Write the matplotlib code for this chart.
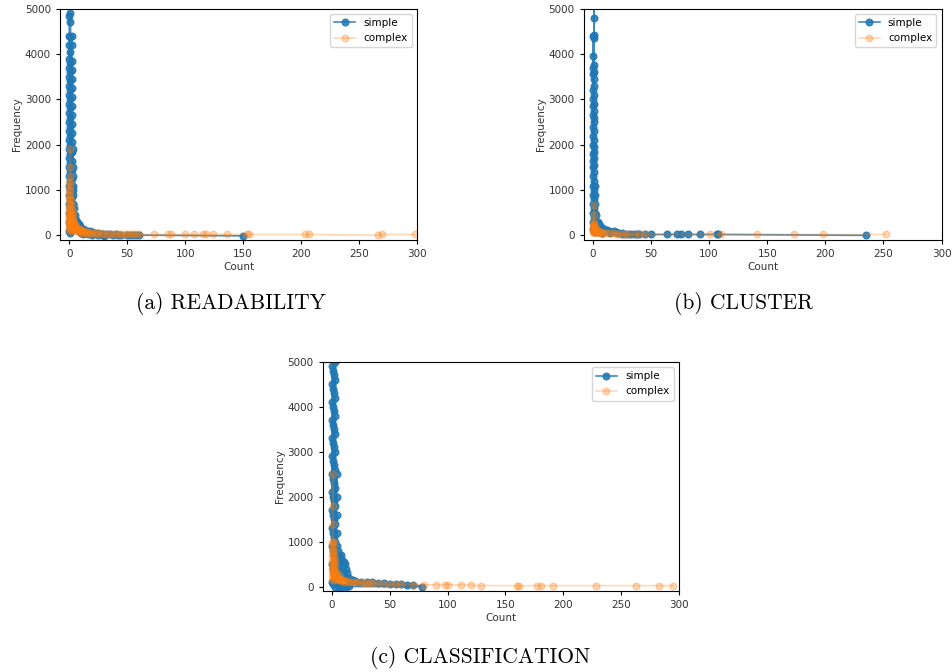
import matplotlib
matplotlib.use("Agg")
import matplotlib.pyplot as plt

# ---------------- data ----------------
# the dense vertical band near Count = 0 is stored per count value (x0, x1, ...)
# and the rest of each series as (count, frequency) lists

# (a) READABILITY
a_simple_x0 = [4850, 4400, 4200, 3900, 3700, 3500, 3300, 3100, 2900, 2700, 2500, 2300,
               2100, 1900, 1700, 1500, 1300, 1100, 900, 700, 500, 300, 100]
a_simple_x1 = [4900, 4700, 4380, 4050, 3800, 3600, 3400, 3200, 3000, 2800, 2600, 2400,
               2200, 2000, 1800, 1600, 1400, 1200, 1000, 800, 600, 400, 200, 50]
a_simple_x2 = [4400, 4200, 3850, 3650, 3450, 3250, 3050, 2850, 2650, 2450, 2250, 2050,
               1850, 1650, 1450, 1250, 1050, 850, 650, 450, 250]
a_simple_x3 = [1900, 1500, 1300, 1100, 900, 700, 500, 300, 150]
a_simple_tail_count = [3, 3, 4, 4, 5, 5, 6, 6, 7, 8, 8, 9, 10, 10, 12, 12, 14, 15, 16, 18,
                       20, 20, 22, 25, 25, 28, 30, 30, 33, 35, 38, 40, 42, 45, 50, 52, 55, 58,
                       60, 150]
a_simple_tail_freq = [1000, 700, 600, 400, 450, 250, 350, 150, 300, 250, 100, 200, 170, 50,
                      150, 30, 120, 100, 20, 90, 70, 10, 60, 50, 0, 40, 30, -10, 30, 20, 10,
                      20, 0, 10, 5, 0, 10, 0, 5, -10]
a_complex_x0 = [1150, 1000, 900, 800, 700, 600, 500, 450, 400, 350, 300, 250, 200, 150]
a_complex_x1 = [1900, 1500, 1300, 1200, 1100, 1000, 900, 800, 700, 600, 550, 450, 400, 350,
                300, 250, 200, 150, 100]
a_complex_x2 = [750, 650, 550, 480, 400, 350, 300, 250, 200, 150, 120]
a_complex_x3 = [500, 400, 330, 270, 220, 170, 120]
a_complex_tail_count = [4, 4, 4, 5, 5, 5, 6, 6, 7, 7, 8, 8, 9, 9, 10, 10, 11, 12, 12, 13, 14,
                        15, 16, 18, 18, 20, 22, 24, 25, 28, 30, 33, 35, 38, 40, 43, 45, 48,
                        50, 53, 55, 58, 60, 73, 85, 88, 100, 108, 115, 118, 124, 136, 153,
                        155, 203, 207, 266, 270, 298]
a_complex_tail_freq = [300, 220, 150, 250, 180, 120, 200, 100, 170, 120, 150, 80, 130, 100,
                       110, 60, 90, 100, 50, 80, 90, 60, 80, 70, 40, 60, 55, 50, 30, 45, 40,
                       35, 40, 30, 30, 30, 25, 25, 25, 25, 25, 25, 25, 20, 20, 20, 20, 20,
                       20, 20, 20, 20, 20, 20, 20, 20, 5, 20, 20]

# (b) CLUSTER
b_simple_x0 = [4400, 3950, 3700, 3550, 3200, 3000, 2850, 2650, 2400, 2200, 2000, 1800,
               1650, 1500, 1300, 1100, 900, 700, 500, 300, 150]
b_simple_x1 = [5300, 4800, 4420, 4350, 3750, 3600, 3450, 3300, 3100, 2900, 2750, 2600,
               2500, 2300, 2100, 1950, 1850, 1700, 1550, 1400, 1200, 1000, 800, 600, 400,
               250, 100]
b_simple_x2 = [1100, 900, 700, 500, 350, 200, 80]
b_simple_tail_count = [3, 3, 4, 5, 5, 6, 7, 8, 8, 10, 12, 14, 15, 18, 20, 22, 25, 25, 28,
                       30, 33, 36, 38, 40, 45, 50, 64, 72, 76, 82, 92, 107, 108, 235]
b_simple_tail_freq = [450, 150, 300, 250, 80, 200, 180, 160, 60, 140, 120, 100, 50, 90, 80,
                      60, 50, 20, 40, 30, 35, 40, 20, 25, 20, 20, 20, 20, 20, 20, 20, 20,
                      20, 0]
b_complex_x0 = [250, 200, 150, 100, 80]
b_complex_x1 = [680, 450, 300, 250, 200, 150, 120, 90, 60]
b_complex_x2 = [200, 150, 110, 70]
b_complex_tail_count = [3, 3, 4, 4, 5, 6, 8, 8, 10, 12, 15, 18, 20, 22, 25, 28, 30, 36,
                        40, 45, 101, 110, 141, 173, 198, 252]
b_complex_tail_freq = [130, 80, 100, 50, 90, 80, 70, 40, 60, 55, 50, 45, 40, 35, 30,
                       25, 25, 20, 20, 20, 20, 20, 20, 20, 20, 20]

# (c) CLASSIFICATION
c_simple_x0 = [4900, 4500, 4100, 3700, 3300, 2900, 2500, 2100, 1700, 1300, 900, 500, 100]
c_simple_x1 = [5200, 4800, 4400, 4000, 3600, 3200, 2800, 2400, 2000, 1600, 1200, 800,
               400, 50]
c_simple_x2 = [5100, 4700, 4300, 3900, 3500, 3100, 2700, 2300, 1900, 1500, 1100, 700, 300]
c_simple_x3 = [5000, 4600, 4200, 3800, 3400, 3000, 2600, 2200, 1800, 1400, 1000, 600, 200]
c_simple_x4 = [2500, 2000, 1600, 1200, 900, 600, 300, 100]
c_simple_tail_count = [5, 5, 6, 7, 8, 8, 9, 10, 10, 11, 12, 12, 13, 14, 15, 18, 20, 22, 25,
                       30, 35, 40, 45, 50, 55, 60, 65, 70, 78, 3, 6, 9, 12, 15]
c_simple_tail_freq = [800, 400, 700, 650, 700, 450, 600, 550, 300, 500, 400, 200, 300, 150,
                      200, 150, 120, 100, 110, 100, 90, 80, 70, 60, 50, 50, 45, 40, 0, 0,
                      -20, 0, -10, 10]
c_complex_x0 = [1000, 850, 700, 600, 500, 400, 300, 200]
c_complex_x1 = [2500, 1800, 1400, 1000, 900, 800, 700, 600, 500, 400, 300, 250, 150]
c_complex_x2 = [1000, 800, 700, 600, 500, 400, 350, 250, 200]
c_complex_x3 = [600, 450, 350, 280, 200, 150]
c_complex_tail_count = [4, 4, 5, 5, 6, 6, 7, 8, 8, 9, 10, 10, 12, 14, 15, 18, 20, 22, 25, 28,
                        30, 33, 35, 40, 45, 50, 55, 60, 70, 80, 90, 98, 100, 112, 120, 129,
                        160, 162, 177, 181, 191, 228, 263, 283, 295]
c_complex_tail_freq = [300, 200, 250, 170, 200, 150, 160, 170, 120, 140, 150, 100, 130, 120,
                       100, 110, 100, 95, 90, 85, 80, 85, 75, 70, 65, 55, 50, 50, 45, 40, 40,
                       40, 35, 35, 30, 20, 20, 20, 20, 20, 20, 20, 20, 20, 20]

captions = ["(a) READABILITY", "(b) CLUSTER", "(c) CLASSIFICATION"]


def join_series(columns, tail_count, tail_freq):
    # columns: list of frequency lists, the i-th one sitting at Count = i
    count, freq = [], []
    for i, col in enumerate(columns):
        count += [i] * len(col)
        freq += col
    return count + tail_count, freq + tail_freq


def draw_panel(ax, simple, complex_):
    ax.plot(simple[0], simple[1], marker="o", color="tab:blue", markersize=4.8,
            linewidth=1.2, alpha=0.85, label="simple")
    ax.plot(complex_[0], complex_[1], marker="o", color="tab:orange", markersize=4.8,
            linewidth=1.2, alpha=0.3, label="complex")
    ax.set_xlim(-8, 300)
    ax.set_ylim(-100, 5000)
    ax.set_xticks(range(0, 301, 50))
    ax.set_yticks(range(0, 5001, 1000))
    ax.tick_params(labelsize=7.5, length=3, labelcolor="#333333")
    ax.set_xlabel("Count", fontsize=7.5, labelpad=2, color="#333333")
    ax.set_ylabel("Frequency", fontsize=7.5, labelpad=2, color="#333333")
    ax.legend(loc="upper right", fontsize=7.5)


fig = plt.figure(figsize=(9.52, 6.72), dpi=100)

ax_a = fig.add_axes([0.063, 0.643, 0.375, 0.344])
draw_panel(ax_a,
           join_series([a_simple_x0, a_simple_x1, a_simple_x2, a_simple_x3],
                       a_simple_tail_count, a_simple_tail_freq),
           join_series([a_complex_x0, a_complex_x1, a_complex_x2, a_complex_x3],
                       a_complex_tail_count, a_complex_tail_freq))

ax_b = fig.add_axes([0.613, 0.643, 0.376, 0.344])
draw_panel(ax_b,
           join_series([b_simple_x0, b_simple_x1, b_simple_x2],
                       b_simple_tail_count, b_simple_tail_freq),
           join_series([b_complex_x0, b_complex_x1, b_complex_x2],
                       b_complex_tail_count, b_complex_tail_freq))

ax_c = fig.add_axes([0.339, 0.1205, 0.374, 0.341])
draw_panel(ax_c,
           join_series([c_simple_x0, c_simple_x1, c_simple_x2, c_simple_x3, c_simple_x4],
                       c_simple_tail_count, c_simple_tail_freq),
           join_series([c_complex_x0, c_complex_x1, c_complex_x2, c_complex_x3],
                       c_complex_tail_count, c_complex_tail_freq))

# captions under each panel
fig.text(0.2427, 0.549, captions[0], ha="center", va="center", fontsize=15.5, family="cmr10")
fig.text(0.781, 0.549, captions[1], ha="center", va="center", fontsize=15.5, family="cmr10")
fig.text(0.504, 0.022, captions[2], ha="center", va="center", fontsize=15.5, family="cmr10")

fig.savefig("out.png", dpi=100)
